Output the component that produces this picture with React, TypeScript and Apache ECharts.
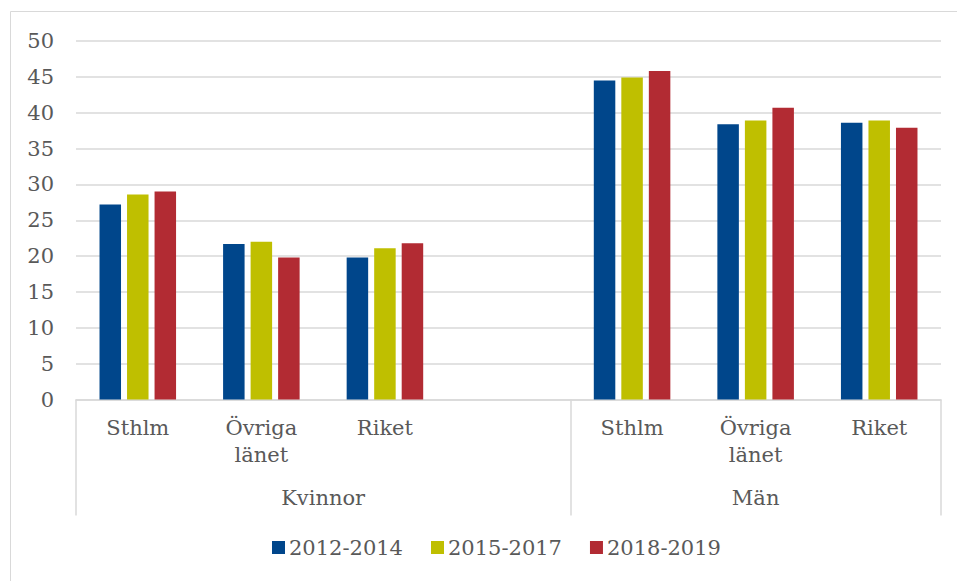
import React, { useEffect, useRef } from "react";
import * as echarts from "echarts";

const categories = ["Sthlm", "Övriga\nlänet", "Riket", "", "Sthlm", "Övriga\nlänet", "Riket"];
const groupLabels = ["Kvinnor", "Män"];
const groupCenters = [2, 5.5];
const groupBounds = [0, 4, 7];
const seriesNames = ["2012-2014", "2015-2017", "2018-2019"];
const s2012 = [27.2, 21.7, 19.8, null, 44.5, 38.4, 38.6];
const s2015 = [28.6, 22.0, 21.1, null, 44.9, 38.9, 38.9];
const s2018 = [29.0, 19.8, 21.8, null, 45.8, 40.7, 37.9];
const yTicks = [0, 50, 5];

const colors = ["#00468B", "#BFBF00", "#B22B33"];
const FONT = "DejaVu Serif";
const TXT = "#595959";
const GRID = "#D9D9D9";
const FS = 21;

export default function App() {
  const ref = useRef<HTMLDivElement>(null);
  useEffect(() => {
    if (!ref.current) return;
    const chart = echarts.init(ref.current, undefined, { renderer: "svg" });
    const data = [s2012, s2015, s2018];
    chart.setOption({
      animation: false,
      textStyle: { fontFamily: FONT, color: TXT },
      grid: { left: 76, right: 16, top: 41, bottom: 181.5 },
      graphic: [
        {
          type: "rect",
          shape: { x: 10.5, y: 11.5, width: 1000, height: 1000 },
          style: { fill: "none", stroke: GRID, lineWidth: 1 },
          silent: true,
        },
      ],
      legend: {
        bottom: 18,
        left: 267,
        icon: "rect",
        itemWidth: 13,
        itemHeight: 13,
        itemGap: 28,
        textStyle: { fontFamily: FONT, fontSize: FS, color: TXT, padding: [0, 0, 0, -1] },
        data: seriesNames,
      },
      xAxis: [
        {
          type: "category",
          data: categories,
          position: "bottom",
          axisLine: { show: true, lineStyle: { color: GRID, width: 1.5 } },
          axisTick: { show: false },
          axisLabel: {
            interval: 0,
            margin: 15,
            fontFamily: FONT,
            fontSize: FS,
            color: TXT,
            lineHeight: 27,
            verticalAlign: "top",
          },
        },
        {
          type: "value",
          position: "bottom",
          min: 0,
          max: 7,
          axisLine: { show: false },
          splitLine: { show: false },
          axisTick: {
            show: true,
            customValues: groupBounds,
            length: 116,
            lineStyle: { color: GRID, width: 1.5 },
          },
          axisLabel: {
            customValues: groupCenters,
            margin: 88,
            fontFamily: FONT,
            fontSize: FS,
            color: TXT,
            verticalAlign: "top",
            formatter: (v: number) => groupLabels[groupCenters.indexOf(v)] ?? "",
          },
        },
      ],
      yAxis: {
        type: "value",
        min: yTicks[0],
        max: yTicks[1],
        interval: yTicks[2],
        axisLine: { show: false },
        axisTick: { show: false },
        splitLine: { lineStyle: { color: GRID, width: 1.5 } },
        axisLabel: { margin: 22, fontFamily: FONT, fontSize: FS, color: TXT },
      },
      series: seriesNames.map((name, i) => ({
        name,
        type: "bar",
        xAxisIndex: 0,
        data: data[i],
        barWidth: 21.5,
        barGap: "28%",
        itemStyle: { color: colors[i] },
      })),
    });
    return () => chart.dispose();
  }, []);
  return (
    <div
      ref={ref}
      style={{ position: "fixed", left: 0, top: 0, width: 957, height: 581, background: "#fff" }}
    />
  );
}
